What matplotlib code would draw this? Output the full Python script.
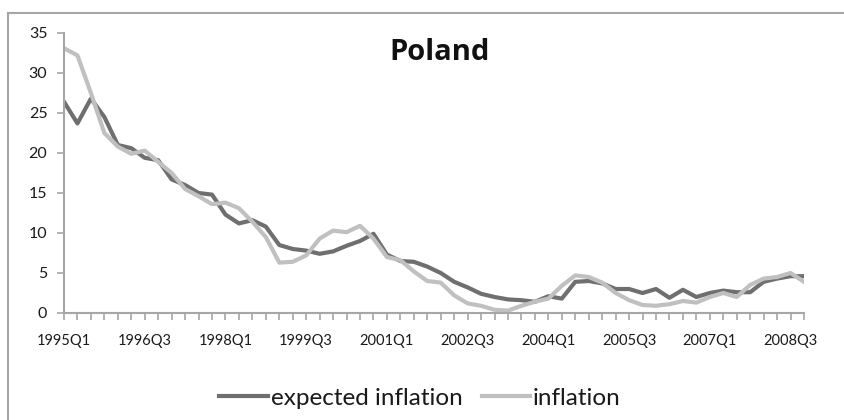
import matplotlib.pyplot as plt
from matplotlib.lines import Line2D

# quarterly data 1995Q1 - 2008Q4
quarters = [f"{y}Q{q}" for y in range(1995, 2009) for q in range(1, 5)]

expected_inflation = [
    26.4, 23.7, 26.8, 24.5, 21.0, 20.6, 19.4, 19.1, 16.7, 16.0,
    15.0, 14.8, 12.3, 11.2, 11.6, 10.8, 8.5, 8.0, 7.8, 7.4,
    7.7, 8.4, 9.0, 9.9, 7.3, 6.5, 6.4, 5.8, 5.0, 3.9,
    3.2, 2.4, 2.0, 1.7, 1.6, 1.4, 2.1, 1.8, 3.9, 4.0,
    3.7, 3.0, 3.0, 2.5, 3.0, 1.9, 2.9, 2.0, 2.5, 2.8,
    2.6, 2.6, 3.9, 4.3, 4.6, 4.6,
]
inflation = [
    33.1, 32.2, 27.5, 22.5, 20.8, 19.9, 20.3, 18.9, 17.5, 15.5,
    14.6, 13.6, 13.8, 13.1, 11.4, 9.5, 6.3, 6.4, 7.2, 9.3,
    10.3, 10.1, 10.9, 9.3, 7.0, 6.6, 5.2, 4.0, 3.8, 2.2,
    1.2, 0.9, 0.4, 0.3, 0.9, 1.4, 1.8, 3.4, 4.7, 4.5,
    3.8, 2.5, 1.6, 1.0, 0.9, 1.1, 1.5, 1.3, 2.0, 2.5,
    2.0, 3.5, 4.3, 4.5, 5.0, 3.9,
]
tick_labels = ["1995Q1", "1996Q3", "1998Q1", "1999Q3", "2001Q1",
               "2002Q3", "2004Q1", "2005Q3", "2007Q1", "2008Q3"]
y_ticks = [0, 5, 10, 15, 20, 25, 30, 35]

dark = "#6f6f6f"
light = "#c0c0c0"
axis_col = "#a6a6a6"
text_col = "#1a1a1a"
label_font = ["Lato", "DejaVu Sans"]

fig = plt.figure(figsize=(8.44, 4.2), dpi=100)
ax = fig.add_axes([64 / 844, 1 - 313 / 420, 740 / 844, 280 / 420])

x = list(range(len(quarters)))
ax.plot(x, expected_inflation, color=dark, lw=3.0, solid_joinstyle="round", label="expected inflation")
ax.plot(x, inflation, color=light, lw=3.0, solid_joinstyle="round", label="inflation")

ax.set_xlim(0, len(quarters) - 1)
ax.set_ylim(0, 35)

# axes styling like Excel
for side in ["top", "right"]:
    ax.spines[side].set_visible(False)
for side in ["left", "bottom"]:
    ax.spines[side].set_color(axis_col)
    ax.spines[side].set_linewidth(1.5)

ax.set_xticks(x, minor=True)
ax.set_xticks([quarters.index(t) for t in tick_labels])
ax.set_xticklabels(tick_labels, fontsize=10.5, color=text_col, family=label_font)
ax.tick_params(axis="x", which="both", length=5, width=1.2, color=axis_col, pad=10)
ax.set_yticks(y_ticks)
ax.set_yticklabels([str(v) for v in y_ticks], fontsize=11.5, color=text_col, family=label_font)
ax.tick_params(axis="y", length=5, width=1.2, color=axis_col, pad=7)

fig.text(440 / 844, 1 - 52 / 420, "Poland", ha="center", va="center",
         fontsize=21, fontweight="bold", color="#111111", family=["Open Sans", "DejaVu Sans"])

handles = [Line2D([], [], color=dark, lw=3.0), Line2D([], [], color=light, lw=3.0)]
fig.legend(handles, ["expected inflation", "inflation"], loc="center",
           bbox_to_anchor=(420 / 844, 1 - 398 / 420), ncol=2, frameon=False,
           prop={"family": label_font, "size": 17.5}, handlelength=2.0,
           handletextpad=0.1, columnspacing=0.8, labelcolor=text_col)

# chart border (top and left visible in the crop)
fig.add_artist(Line2D([8 / 844, 8 / 844], [0, 1 - 13 / 420], color=axis_col, lw=1.5))
fig.add_artist(Line2D([8 / 844, 1], [1 - 13 / 420, 1 - 13 / 420], color=axis_col, lw=1.5))

fig.savefig("out.png", dpi=100, facecolor="white")
